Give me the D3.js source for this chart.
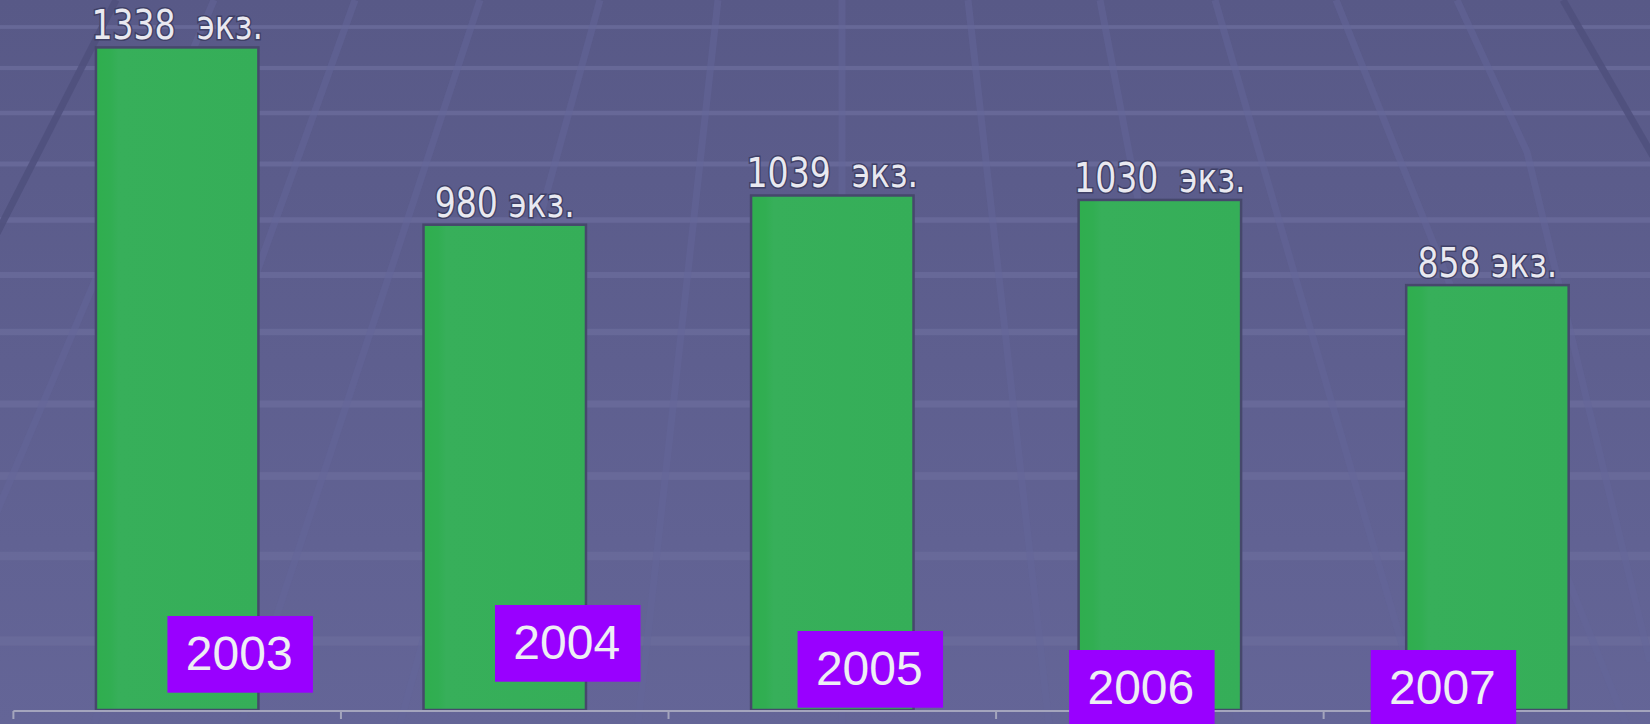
<!DOCTYPE html>
<html lang="ru">
<head>
<meta charset="UTF-8">
<title>Экземпляры по годам</title>
<style>
    html, body { margin: 0; padding: 0; background: #5d5e8d; overflow: hidden; }
    svg { display: block; }
</style>
</head>
<body>
<script src="https://cdnjs.cloudflare.com/ajax/libs/d3/7.8.5/d3.min.js"></script>
<script>

// data
const years = ["2003", "2004", "2005", "2006", "2007"];
const copies = [1338, 980, 1039, 1030, 858];
const unit = "экз.";

// hand-placed year tags: shift of the box centre from the bar centre, and box top above the axis
const tagShiftX = [63, 63, 38, -18, -44];
const tagRaise = [94, 105, 79, 60, 60];

// decorative floor behind the chart
const floorRows = [27, 68, 113, 164, 220, 275, 332, 404, 476, 556, 641];
const floorRays = [
    [[116, 0], [-253, 724]],
    [[214, 0], [-93, 724]],
    [[355, 0], [94, 724]],
    [[480, 0], [241, 724]],
    [[600, 0], [400, 724]],
    [[718, 0], [638, 724]],
    [[842, 0], [842, 724]],
    [[968, 0], [1049, 724]],
    [[1100, 0], [1238, 724]],
    [[1215, 0], [1425, 724]],
    [[1336, 0], [1626, 724]],
    [[1457, 0], [1527, 152], [1650, 662]],
    [[1563, 0], [1980, 724]]
];

const W = 1650, H = 724;
const axisY = 710;

const svg = d3.select("body").append("svg")
    .attr("width", W)
    .attr("height", H);

const defs = svg.append("defs");
const bg = defs.append("linearGradient").attr("id", "bg")
    .attr("x1", 0).attr("y1", 0).attr("x2", 0).attr("y2", 1);
bg.append("stop").attr("offset", "0%").attr("stop-color", "#585987");
bg.append("stop").attr("offset", "100%").attr("stop-color", "#646597");

const barFill = defs.append("linearGradient").attr("id", "barFill")
    .attr("x1", 0).attr("y1", 0).attr("x2", 1).attr("y2", 0);
barFill.append("stop").attr("offset", "0%").attr("stop-color", "#2fae4e");
barFill.append("stop").attr("offset", "9%").attr("stop-color", "#31ae52");
barFill.append("stop").attr("offset", "14%").attr("stop-color", "#37af5a");
barFill.append("stop").attr("offset", "100%").attr("stop-color", "#35ae58");

svg.append("rect")
    .attr("width", W)
    .attr("height", H)
    .attr("fill", "url(#bg)");

// floor grid
svg.append("g").selectAll("rect")
    .data(floorRows)
    .join("rect")
        .attr("x", 0)
        .attr("y", d => d - (3.5 + d * 0.009) / 2)
        .attr("width", W)
        .attr("height", d => 3.5 + d * 0.009)
        .attr("fill", "#6a6b9b")
        .attr("opacity", 0.8);

const rayLine = d3.line();
svg.append("g").selectAll("path")
    .data(floorRays)
    .join("path")
        .attr("d", d => rayLine(d))
        .attr("fill", "none")
        .attr("stroke", (d, i) => (i === 0 || i === floorRays.length - 1) ? "#4f507c" : "#64659a")
        .attr("stroke-width", 7)
        .attr("opacity", (d, i) => (i === 0 || i === floorRays.length - 1) ? 0.85 : 0.5);

// scales
const x = d3.scaleBand()
    .domain(years)
    .range([13.4, 1651.2])
    .paddingInner(0.504)
    .paddingOuter(0.252);

const y = d3.scaleLinear()
    .domain([0, 1400])
    .range([axisY, axisY - 1400 * 0.4952]);

// bars
svg.append("g").selectAll("rect")
    .data(copies)
    .join("rect")
        .attr("x", (d, i) => x(years[i]))
        .attr("y", d => y(d))
        .attr("width", x.bandwidth())
        .attr("height", d => y(0) - y(d))
        .attr("fill", "url(#barFill)")
        .attr("stroke", "#46486c")
        .attr("stroke-width", 2.5);

// value labels, squeezed a little to match the narrow face of the original
svg.append("g").selectAll("text")
    .data(copies)
    .join("text")
        .attr("transform", (d, i) => `translate(${x(years[i]) + x.bandwidth() / 2},${y(d) - 8}) scale(0.92,1)`)
        .attr("text-anchor", "middle")
        .style("white-space", "pre")
        .attr("font-family", "'DejaVu Sans Condensed', 'DejaVu Sans', sans-serif")
        .attr("font-stretch", "condensed")
        .attr("font-size", 40)
        .attr("fill", "#e9e9f0")
        .attr("stroke", "#3f4066")
        .attr("stroke-width", 3)
        .attr("paint-order", "stroke")
        .text(d => d + (d >= 1000 ? "  " : " ") + unit);

// axis line with boundary ticks
const axis = svg.append("g");
axis.append("line")
    .attr("x1", x.range()[0])
    .attr("x2", W)
    .attr("y1", axisY + 1)
    .attr("y2", axisY + 1)
    .attr("stroke", "#a4a5bd")
    .attr("stroke-width", 2);
const bounds = years.map(d => x(d) + x.bandwidth() / 2 - x.step() / 2);
axis.selectAll("line.tick")
    .data(bounds)
    .join("line")
        .attr("class", "tick")
        .attr("x1", d => d)
        .attr("x2", d => d)
        .attr("y1", axisY + 1)
        .attr("y2", axisY + 9)
        .attr("stroke", "#a4a5bd")
        .attr("stroke-width", 2);

// year tags
const tagW = 145.5, tagH = 76.7;
const tags = svg.append("g").selectAll("g")
    .data(years)
    .join("g")
        .attr("transform", (d, i) => {
            const cx = x(d) + x.bandwidth() / 2 + tagShiftX[i];
            return `translate(${cx - tagW / 2},${axisY - tagRaise[i]})`;
        });
tags.append("rect")
    .attr("width", tagW)
    .attr("height", tagH)
    .attr("fill", "#9900ff");
tags.append("text")
    .attr("x", tagW / 2 - 1)
    .attr("y", 54)
    .attr("text-anchor", "middle")
    .attr("font-family", "'Liberation Sans', Arial, sans-serif")
    .attr("font-size", 48)
    .attr("fill", "#eeeef4")
    .text(d => d);

</script>
</body>
</html>
